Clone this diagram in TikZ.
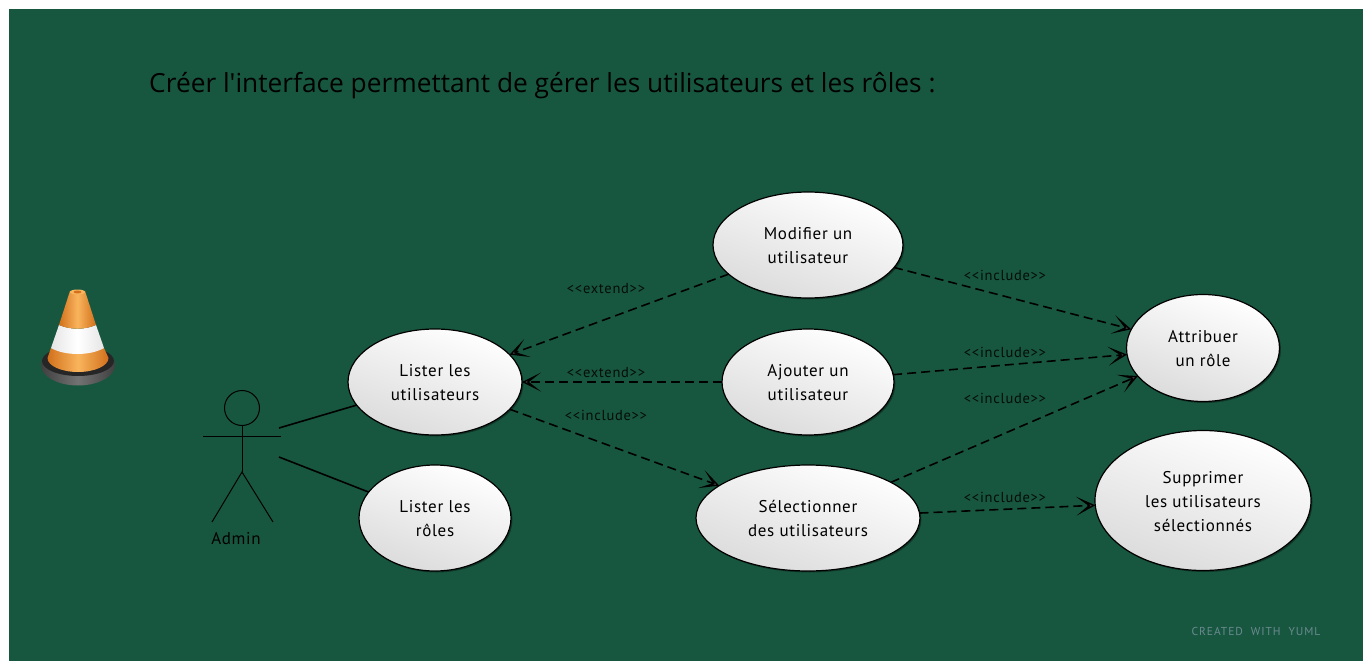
\documentclass[tikz,border=0pt]{standalone}
\usepackage{fontspec}
\setmainfont{PT Sans}
\newfontfamily\titlefont{Open Sans}
\usetikzlibrary{shapes.geometric,shadows,arrows.meta}
\definecolor{bg}{HTML}{18573F}
\definecolor{cone}{HTML}{F28C14}
\definecolor{conedark}{HTML}{D2701C}
\definecolor{conelight}{HTML}{F9B45C}
\definecolor{yumlgrey}{HTML}{6A8A90}
\newcommand\firstline{\rule{0pt}{20.8pt}}
\tikzset{
  x=1pt,y=-1pt,
  usecase/.style={ellipse,draw=black,line width=1.2pt,inner sep=0pt,outer sep=0pt,
    top color=white,bottom color=white!86!black,shading angle=-20,
    drop shadow={shadow xshift=1.5pt,shadow yshift=-1.5pt,opacity=.35,fill=black},
    align=center,font=\fontsize{17}{24}\selectfont\addfontfeature{LetterSpace=4}},
  dep/.style={draw=black,line width=1.6pt,dash pattern=on 9pt off 5pt,
    -{Stealth[length=19pt,width=19pt,inset=12pt,fill=black!65,line width=1.4pt,sep=0pt]}},
  link/.style={draw=black,line width=1.6pt},
  actorline/.style={draw=black,line width=1pt},
  deplabel/.style={font=\fontsize{14.5}{15}\selectfont\addfontfeature{LetterSpace=5},text=black!85!bg,inner sep=0pt},
}
\begin{document}
\begin{tikzpicture}
\useasboundingbox (0,0) rectangle (1363,661);
\fill[white] (0,0) rectangle (1363,661);
\fill[bg] (9,9) rectangle (1363,661);
\node[anchor=west,inner sep=0pt,font=\titlefont\fontsize{26.3}{30}\selectfont] (title) at (149,85.5) {Créer l'interface permettant de gérer les utilisateurs et les rôles :};
% cone base
\shade[left color=black!75,right color=black!75,middle color=black!55] (78,365) ellipse (37 and 20.5);
\fill[black!85] (78,361) ellipse (36 and 15);
% cone lower band
\shade[left color=conedark,right color=conedark,middle color=conelight]
  (51,348) -- (104,348) -- (108.5,358) arc (0:180:30.5 and 14) -- cycle;
% cone white band
\shade[left color=black!10,right color=black!10,middle color=white]
  (59,325) .. controls (70,330) and (85,330) .. (96,325) -- (104,348) .. controls (90,356) and (65,356) .. (51,348) -- cycle;
% cone top band
\shade[left color=conedark,right color=conedark,middle color=conelight]
  (70,291) -- (85,291) -- (96,325) .. controls (85,330) and (70,330) .. (59,325) -- cycle;
\fill[conelight] (77.5,292) ellipse (7.5 and 2.5);
\fill[conedark] (77.5,292) ellipse (4 and 1.4);
% actor
\node[circle,draw=black,line width=1pt,minimum size=35pt,inner sep=0pt] (head) at (242,408) {};
\coordinate (armL) at (203,436);
\coordinate (armR) at (281,436);
\coordinate (hip) at (242,472);
\coordinate (legL) at (212,522);
\coordinate (legR) at (273,522);
\draw[actorline] (armL) -- (armR);
\draw[actorline] (head) -- (hip);
\draw[actorline] (legL) -- (hip) -- (legR);
\node[inner sep=0pt,font=\fontsize{17}{18}\selectfont\addfontfeature{LetterSpace=4}] (admin) at (236,538.5) {Admin};
\coordinate (a1) at (279,428);
\coordinate (a2) at (279,457);
% use cases
\node[usecase,minimum width=174pt,minimum height=106pt] (lister) at (435,382) {\firstline Lister les\\\strut utilisateurs};
\node[usecase,minimum width=152pt,minimum height=106pt] (roles) at (435,518) {\firstline Lister les\\\strut rôles};
\node[usecase,minimum width=190pt,minimum height=106pt] (modif) at (808,245) {\firstline Modifier un\\\strut utilisateur};
\node[usecase,minimum width=172pt,minimum height=106pt] (ajout) at (808,382) {\firstline Ajouter un\\\strut utilisateur};
\node[usecase,minimum width=224pt,minimum height=106pt] (select) at (808,518) {\firstline Sélectionner\\\strut des utilisateurs};
\node[usecase,minimum width=153pt,minimum height=107pt] (attr) at (1203,348) {\firstline Attribuer\\\strut un rôle};
\node[usecase,minimum width=216pt,minimum height=140pt] (supp) at (1203,500.5) {\firstline Supprimer\\\strut les utilisateurs\\\strut sélectionnés};
% connectors
\draw[link] (a1) -- (lister);
\draw[link] (a2) -- (roles);
\draw[dep] (modif) -- (lister);
\draw[dep] (ajout) -- (lister);
\draw[dep] (lister) -- (select);
\draw[dep] (modif) -- (attr);
\draw[dep] (ajout) -- (attr);
\draw[dep] (select) -- (attr);
\draw[dep] (select) -- (supp);
% labels
\node[deplabel] (l1) at (606,288.5) {{<}{<}extend{>}{>}};
\node[deplabel] (l2) at (606,372.5) {{<}{<}extend{>}{>}};
\node[deplabel] (l3) at (606,415.5) {{<}{<}include{>}{>}};
\node[deplabel] (l4) at (1005,275.5) {{<}{<}include{>}{>}};
\node[deplabel] (l5) at (1005,352.5) {{<}{<}include{>}{>}};
\node[deplabel] (l6) at (1005,398.5) {{<}{<}include{>}{>}};
\node[deplabel] (l7) at (1005,497.5) {{<}{<}include{>}{>}};
\node[inner sep=0pt,text=yumlgrey,font=\fontsize{11.5}{12}\selectfont\addfontfeature{LetterSpace=8}] (yuml) at (1256,631.5) {CREATED\ \ WITH\ \ YUML};
\end{tikzpicture}
\end{document}
